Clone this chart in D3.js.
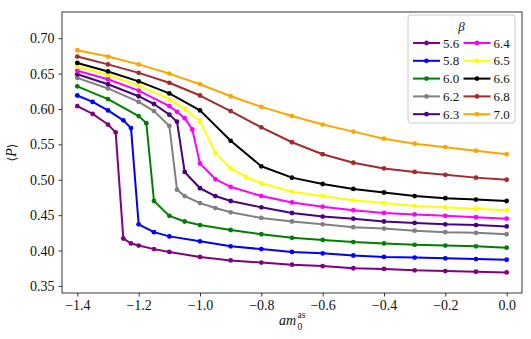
<!DOCTYPE html>
<head>
  <meta charset="utf-8">
  <script src="https://d3js.org/d3.v7.min.js"></script>
  <style>
    body { margin:0; background:#fff; }
    svg text { font-family: "Liberation Serif", "DejaVu Serif", serif; fill:#111; }
  </style>
</head>
<body>
<script>
  // beta values, colours and <P> data
  var betas  = ['5.6', '5.8', '6.0', '6.2', '6.3', '6.4', '6.5', '6.6', '6.8', '7.0'];
  var colors = ['purple', 'blue', 'green', 'gray', 'indigo', 'magenta', 'yellow', 'black', 'brown', 'orange'];

  var tail = [-0.9, -0.8, -0.7, -0.6, -0.5, -0.4, -0.3, -0.2, -0.1, 0.0];

  var x_56 = [-1.4, -1.35, -1.3, -1.275, -1.25, -1.225, -1.2, -1.15, -1.1, -1.0].concat(tail);
  var p_56 = [0.604, 0.593, 0.578, 0.567, 0.417, 0.410, 0.407, 0.402, 0.398, 0.391,
              0.386, 0.383, 0.380, 0.378, 0.375, 0.374, 0.372, 0.371, 0.370, 0.369];
  var x_58 = [-1.4, -1.35, -1.3, -1.25, -1.225, -1.2, -1.15, -1.1, -1.0].concat(tail);
  var p_58 = [0.619, 0.610, 0.598, 0.584, 0.573, 0.437, 0.426, 0.420, 0.413,
              0.406, 0.402, 0.398, 0.396, 0.393, 0.391, 0.390, 0.389, 0.388, 0.387];
  var x_60 = [-1.4, -1.3, -1.2, -1.175, -1.15, -1.1, -1.05, -1.0].concat(tail);
  var p_60 = [0.632, 0.614, 0.590, 0.580, 0.470, 0.449, 0.441, 0.436,
              0.429, 0.423, 0.418, 0.415, 0.412, 0.410, 0.408, 0.407, 0.406, 0.404];
  var x_62 = [-1.4, -1.3, -1.2, -1.15, -1.1, -1.075, -1.05, -1.0, -0.95].concat(tail);
  var p_62 = [0.644, 0.629, 0.610, 0.597, 0.576, 0.486, 0.477, 0.467, 0.460,
              0.454, 0.446, 0.441, 0.437, 0.433, 0.431, 0.428, 0.426, 0.425, 0.423];
  var x_63 = [-1.4, -1.3, -1.2, -1.15, -1.1, -1.075, -1.05, -1.0, -0.95].concat(tail);
  var p_63 = [0.649, 0.635, 0.618, 0.607, 0.592, 0.582, 0.511, 0.488, 0.477,
              0.470, 0.461, 0.453, 0.448, 0.445, 0.441, 0.439, 0.437, 0.436, 0.434];
  var x_64 = [-1.4, -1.3, -1.2, -1.1, -1.075, -1.05, -1.025, -1.0, -0.95].concat(tail);
  var p_64 = [0.654, 0.642, 0.626, 0.604, 0.596, 0.587, 0.571, 0.523, 0.501,
              0.490, 0.477, 0.468, 0.462, 0.457, 0.453, 0.451, 0.449, 0.447, 0.445];
  var x_65 = [-1.4, -1.3, -1.2, -1.1, -1.05, -1.0, -0.95, -0.9, -0.85, -0.8, -0.7, -0.6, -0.5, -0.4, -0.3, -0.2, -0.1, 0.0];
  var p_65 = [0.660, 0.648, 0.633, 0.614, 0.600, 0.583, 0.538, 0.516, 0.504, 0.495,
              0.483, 0.477, 0.471, 0.467, 0.463, 0.461, 0.459, 0.457];
  var x_66 = [-1.4, -1.3, -1.2, -1.1, -1.0].concat(tail);
  var p_66 = [0.665, 0.653, 0.639, 0.622, 0.598, 0.555, 0.519, 0.503, 0.494, 0.487, 0.482, 0.477, 0.474, 0.472, 0.470];
  var x_68 = [-1.4, -1.3, -1.2, -1.1, -1.0].concat(tail);
  var p_68 = [0.674, 0.663, 0.651, 0.637, 0.619, 0.597, 0.574, 0.553, 0.536, 0.524, 0.516, 0.511, 0.507, 0.503, 0.500];
  var x_70 = [-1.4, -1.3, -1.2, -1.1, -1.0].concat(tail);
  var p_70 = [0.683, 0.674, 0.663, 0.650, 0.635, 0.618, 0.603, 0.590, 0.578, 0.568, 0.558, 0.551, 0.546, 0.541, 0.536];

  var xsAll = [x_56, x_58, x_60, x_62, x_63, x_64, x_65, x_66, x_68, x_70];
  var psAll = [p_56, p_58, p_60, p_62, p_63, p_64, p_65, p_66, p_68, p_70];

  var xTicks = [-1.4, -1.2, -1.0, -0.8, -0.6, -0.4, -0.2, 0.0];
  var yTicks = [0.35, 0.40, 0.45, 0.50, 0.55, 0.60, 0.65, 0.70];

  var width = 531, height = 339;
  var pLeft = 62, pRight = 522, pTop = 12, pBottom = 293;
  var serif = '"Liberation Serif", "DejaVu Serif", serif';

  var x = d3.scaleLinear().domain([-1.45, 0.05]).range([pLeft, pRight]);
  var y = d3.scaleLinear().domain([0.34, 0.737]).range([pBottom, pTop]);

  var svg = d3.select('body').append('svg')
    .attr('width', width)
    .attr('height', height);

  var series = betas.map(function(b, i) {
    return { beta: b, color: colors[i],
      pts: xsAll[i].map(function(v, j) { return [v, psAll[i][j]]; }) };
  });

  var line = d3.line()
    .x(function(d) { return x(d[0]); })
    .y(function(d) { return y(d[1]); });

  var g = svg.selectAll('.series')
    .data(series)
    .enter().append('g');

  g.append('path')
    .attr('d', function(d) { return line(d.pts); })
    .attr('fill', 'none')
    .attr('stroke', function(d) { return d.color; })
    .attr('stroke-width', 2)
    .attr('stroke-linejoin', 'round');

  g.selectAll('circle')
    .data(function(d) { return d.pts.map(function(p) { return { p: p, c: d.color }; }); })
    .enter().append('circle')
    .attr('cx', function(d) { return x(d.p[0]); })
    .attr('cy', function(d) { return y(d.p[1]); })
    .attr('r', 2.4)
    .attr('fill', function(d) { return d.c; });

  // axes
  var xAxis = svg.append('g')
    .attr('transform', 'translate(0,' + pBottom + ')')
    .call(d3.axisBottom(x).tickValues(xTicks).tickFormat(d3.format('.1f'))
      .tickSize(3.5).tickPadding(4));
  var yAxis = svg.append('g')
    .attr('transform', 'translate(' + pLeft + ',0)')
    .call(d3.axisLeft(y).tickValues(yTicks).tickFormat(d3.format('.2f'))
      .tickSize(3.5).tickPadding(4));

  [xAxis, yAxis].forEach(function(a) {
    a.attr('font-family', null).attr('font-size', null);
    a.select('.domain').remove();
    a.selectAll('line').attr('stroke', '#222').attr('stroke-width', 0.9);
    a.selectAll('text').style('font-family', serif)
      .style('font-size', '14px').attr('fill', '#111');
  });

  svg.append('rect')
    .attr('x', pLeft).attr('y', pTop)
    .attr('width', pRight - pLeft).attr('height', pBottom - pTop)
    .attr('fill', 'none').attr('stroke', '#222').attr('stroke-width', 0.9);

  // axis labels
  var yl = svg.append('text')
    .attr('transform', 'translate(16,' + ((pTop + pBottom) / 2) + ') rotate(-90)')
    .attr('text-anchor', 'middle')
    .style('font-family', serif)
    .style('font-size', '14px');
  yl.append('tspan').style('font-family', '"DejaVu Serif", serif').style('font-size', '12px').text('\u27E8');
  yl.append('tspan').style('font-style', 'italic').text('P');
  yl.append('tspan').style('font-family', '"DejaVu Serif", serif').style('font-size', '12px').text('\u27E9');

  var xl = svg.append('g').attr('transform', 'translate(' + ((pLeft + pRight) / 2 - 13) + ',325)');
  xl.append('text').style('font-family', serif).style('font-size', '14px').style('font-style', 'italic').text('am');
  xl.append('text').attr('x', 18.5).attr('y', -7).style('font-family', serif).style('font-size', '9.5px').text('as');
  xl.append('text').attr('x', 18.5).attr('y', 5).style('font-family', serif).style('font-size', '9.5px').text('0');

  // legend
  var lg = svg.append('g');
  lg.append('rect')
    .attr('x', 408).attr('y', 15).attr('width', 107).attr('height', 108).attr('rx', 3)
    .attr('fill', 'white').attr('fill-opacity', 0.8)
    .attr('stroke', '#ccc').attr('stroke-width', 1);
  lg.append('text')
    .attr('x', 461.5).attr('y', 31)
    .attr('text-anchor', 'middle')
    .style('font-family', serif)
    .style('font-size', '13px').style('font-style', 'italic')
    .text('\u03B2');

  var item = lg.selectAll('.item')
    .data(series)
    .enter().append('g')
    .attr('transform', function(d, i) {
      var col = Math.floor(i / 5), row = i % 5;
      return 'translate(' + (413 + col * 50.5) + ',' + (43 + row * 17.8) + ')';
    });
  item.append('line')
    .attr('x1', 0).attr('x2', 27)
    .attr('stroke', function(d) { return d.color; })
    .attr('stroke-width', 2);
  item.append('circle')
    .attr('cx', 13.5).attr('r', 2.4)
    .attr('fill', function(d) { return d.color; });
  item.append('text')
    .attr('x', 30).attr('dy', '0.35em')
    .style('font-family', serif)
    .style('font-size', '13px')
    .text(function(d) { return d.beta; });
</script>
</body>
